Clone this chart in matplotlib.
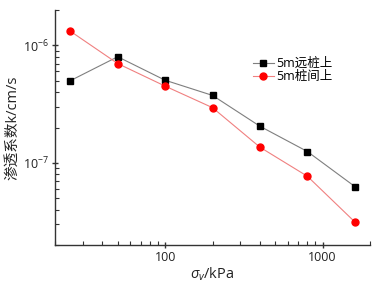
import matplotlib
matplotlib.use('Agg')
import matplotlib.pyplot as plt
from matplotlib.ticker import NullFormatter, LogLocator, FuncFormatter

plt.rcParams['font.family'] = ['Open Sans', 'Noto Sans CJK SC', 'DejaVu Sans']
plt.rcParams['mathtext.fontset'] = 'custom'
plt.rcParams['mathtext.rm'] = 'Open Sans'
plt.rcParams['mathtext.it'] = 'Open Sans:italic'

# data
stress = [25, 50, 100, 200, 400, 800, 1600]
k_far = [5.0e-7, 8.0e-7, 5.05e-7, 3.75e-7, 2.05e-7, 1.25e-7, 6.3e-8]
k_between = [1.32e-6, 7.0e-7, 4.5e-7, 2.95e-7, 1.36e-7, 7.7e-8, 3.15e-8]
labels = ['5m远桩上', '5m桩间上']

fig = plt.figure(figsize=(3.78, 2.84), dpi=100)
ax = fig.add_axes([0.1455, 0.137, 0.979 - 0.1455, 0.965 - 0.137])

ax.plot(stress, k_far, c='#7f7f7f', ls='-', lw=0.8, marker='s', ms=4.5,
        mfc='#000000', mec='#000000', label=labels[0])
ax.plot(stress, k_between, c='#f08080', ls='-', lw=0.8, marker='o', ms=5,
        mfc='#ff0000', mec='#ff0000', label=labels[1])

ax.set_xscale('log')
ax.set_yscale('log')
ax.set_xlim(20, 2000)
ax.set_ylim(2e-8, 2e-6)

for s in ['top', 'right']:
    ax.spines[s].set_visible(False)
for s in ['left', 'bottom']:
    ax.spines[s].set_linewidth(1.0)
    ax.spines[s].set_color('#333333')

ax.xaxis.set_minor_locator(LogLocator(base=10, subs=range(2, 10)))
ax.yaxis.set_minor_locator(LogLocator(base=10, subs=range(2, 10)))
ax.xaxis.set_major_formatter(FuncFormatter(lambda v, p: f'{v:g}'))
ax.xaxis.set_minor_formatter(NullFormatter())
ax.yaxis.set_minor_formatter(NullFormatter())
ax.tick_params(which='major', direction='inout', length=5, width=1, labelsize=9,
               colors='#333333', labelcolor='#222222', pad=2)
ax.tick_params(which='minor', direction='in', length=3, width=0.8, colors='#333333')

ax.set_xlabel(r'$\sigma_v$/kPa', fontsize=10.5, color='#222222', labelpad=1)
ax.set_ylabel('渗透系数k/cm/s', fontsize=10.5, color='#222222', labelpad=2)

ax.legend(loc='upper left', bbox_to_anchor=(0.611, 0.82), frameon=False,
          fontsize=9, handlelength=1.7, handletextpad=0.2,
          borderaxespad=0, labelspacing=0.0)

fig.savefig('out.png', dpi=100)
